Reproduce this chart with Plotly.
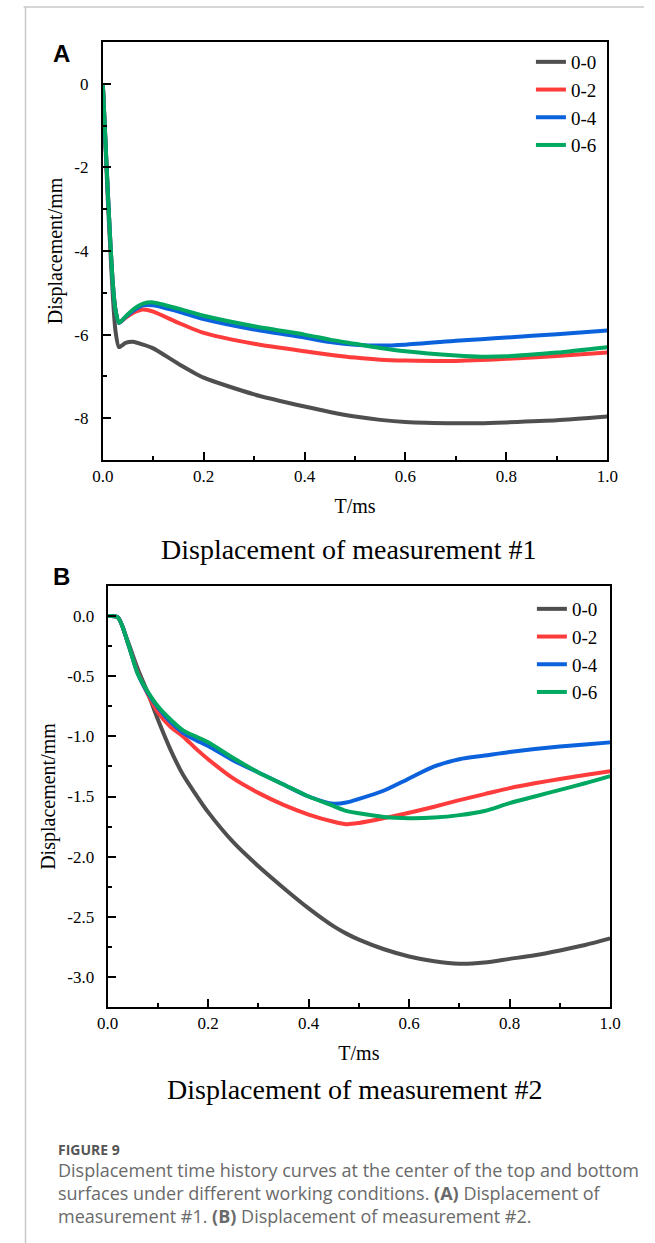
import plotly.graph_objects as go

W, H = 655, 1243

# ---------------- data ----------------
series_names = ["0-0", "0-2", "0-4", "0-6"]
series_colors = ["#4f4f4f", "#ff3c3c", "#0b62dc", "#00a862"]

# Panel A: displacement of measurement #1
tA = [0, 0.005, 0.01, 0.015, 0.02, 0.025, 0.032, 0.045, 0.06, 0.08, 0.1, 0.15, 0.2,
      0.3, 0.4, 0.45, 0.5, 0.55, 0.6, 0.7, 0.75, 0.8, 0.9, 1.0]
a_00 = [0, -1.4, -2.8, -4.0, -5.1, -5.9, -6.3, -6.2, -6.17, -6.24, -6.33, -6.7, -7.03,
        -7.43, -7.72, -7.85, -7.96, -8.04, -8.09, -8.12, -8.12, -8.1, -8.05, -7.96]
a_02 = [0, -1.3, -2.6, -3.8, -4.8, -5.4, -5.72, -5.6, -5.48, -5.4, -5.45, -5.72, -5.96,
        -6.22, -6.4, -6.48, -6.55, -6.6, -6.62, -6.63, -6.61, -6.58, -6.51, -6.43]
a_04 = [0, -1.3, -2.6, -3.8, -4.8, -5.4, -5.72, -5.58, -5.43, -5.3, -5.3, -5.45, -5.63,
        -5.88, -6.07, -6.18, -6.24, -6.26, -6.24, -6.15, -6.11, -6.07, -5.99, -5.9]
a_06 = [0, -1.3, -2.6, -3.8, -4.8, -5.4, -5.72, -5.57, -5.4, -5.26, -5.23, -5.38, -5.55,
        -5.8, -6.0, -6.12, -6.22, -6.32, -6.4, -6.5, -6.53, -6.52, -6.43, -6.3]

# Panel B: displacement of measurement #2
tB = [0, 0.02, 0.04, 0.06, 0.08, 0.1, 0.125, 0.15, 0.175, 0.2, 0.25, 0.3, 0.35, 0.4,
      0.45, 0.475, 0.5, 0.55, 0.6, 0.65, 0.7, 0.75, 0.8, 0.85, 0.9, 0.95, 1.0]
b_00 = [0, -0.01, -0.21, -0.44, -0.64, -0.86, -1.11, -1.32, -1.48, -1.63, -1.88, -2.08,
        -2.26, -2.43, -2.58, -2.64, -2.69, -2.77, -2.83, -2.87, -2.89, -2.88, -2.85,
        -2.82, -2.78, -2.735, -2.68]
b_02 = [0, -0.01, -0.22, -0.47, -0.65, -0.8, -0.92, -1.0, -1.1, -1.19, -1.35, -1.47,
        -1.57, -1.65, -1.71, -1.73, -1.72, -1.68, -1.635, -1.585, -1.53, -1.48, -1.43,
        -1.39, -1.355, -1.322, -1.29]
b_04 = [0, -0.01, -0.22, -0.48, -0.64, -0.76, -0.88, -0.97, -1.03, -1.08, -1.2, -1.3,
        -1.4, -1.5, -1.56, -1.55, -1.52, -1.45, -1.35, -1.25, -1.19, -1.16, -1.13,
        -1.105, -1.085, -1.067, -1.05]
b_06 = [0, -0.01, -0.22, -0.48, -0.63, -0.75, -0.86, -0.95, -1.0, -1.05, -1.18, -1.3,
        -1.4, -1.5, -1.58, -1.62, -1.64, -1.67, -1.68, -1.675, -1.655, -1.62, -1.555,
        -1.5, -1.445, -1.39, -1.33]

# axis ticks
x_tickvals = [0, 0.2, 0.4, 0.6, 0.8, 1.0]
x_ticktext = ["0.0", "0.2", "0.4", "0.6", "0.8", "1.0"]
yA_tickvals = [0, -2, -4, -6, -8]
yA_ticktext = ["0", "-2", "-4", "-6", "-8"]
yB_tickvals = [0, -0.5, -1.0, -1.5, -2.0, -2.5, -3.0]
yB_ticktext = ["0.0", "-0.5", "-1.0", "-1.5", "-2.0", "-2.5", "-3.0"]

SERIF = "Liberation Serif, Times New Roman, serif"

fig = go.Figure()

for name, color, ys in zip(series_names, series_colors, [a_00, a_02, a_04, a_06]):
    fig.add_trace(go.Scatter(x=tA, y=ys, name=name, mode="lines",
                             line=dict(color=color, width=4, shape="spline", smoothing=0.6),
                             xaxis="x", yaxis="y", legend="legend"))
for name, color, ys in zip(series_names, series_colors, [b_00, b_02, b_04, b_06]):
    fig.add_trace(go.Scatter(x=tB, y=ys, name=name, mode="lines",
                             line=dict(color=color, width=4, shape="spline", smoothing=0.8),
                             xaxis="x2", yaxis="y2", legend="legend2"))

def px_x(p):
    return p / W

def px_y(p):
    return 1 - p / H

axis_common = dict(showgrid=False, zeroline=False, showline=True, linecolor="black",
                   linewidth=2, mirror=True, ticks="inside", ticklen=8, tickwidth=1.5,
                   tickcolor="black", tickfont=dict(family=SERIF, size=17, color="black"))

minor_x = dict(ticks="inside", ticklen=4, tickwidth=1.5, dtick=0.1, tickcolor="black")
title_font = dict(family=SERIF, size=20, color="black")

fig.update_layout(
    width=W, height=H, margin=dict(l=0, r=0, t=0, b=0),
    paper_bgcolor="white", plot_bgcolor="white",
    xaxis=dict(domain=[px_x(95), px_x(617)], range=[0, 1], anchor="y",
               tickvals=x_tickvals, ticktext=x_ticktext, minor=minor_x,
               title=dict(text="T/ms", font=title_font, standoff=14),
               **axis_common),
    yaxis=dict(domain=[px_y(460), px_y(42)], range=[-9, 1], anchor="x",
               tickvals=yA_tickvals, ticktext=yA_ticktext, ticklabelstandoff=9,
               minor=dict(ticks="inside", ticklen=4, tickwidth=1.5, dtick=1, tickcolor="black"),
               title=dict(text="Displacement/mm", font=title_font, standoff=6),
               **axis_common),
    xaxis2=dict(domain=[px_x(100), px_x(620)], range=[0, 1], anchor="y2",
                tickvals=x_tickvals, ticktext=x_ticktext, minor=minor_x,
                title=dict(text="T/ms", font=title_font, standoff=14),
                **axis_common),
    yaxis2=dict(domain=[px_y(1007), px_y(586)], range=[-3.25, 0.25], anchor="x2",
                tickvals=yB_tickvals, ticktext=yB_ticktext, ticklabelstandoff=8,
                minor=dict(ticks="inside", ticklen=4, tickwidth=1.5, dtick=0.25, tickcolor="black"),
                title=dict(text="Displacement/mm", font=title_font, standoff=6),
                **axis_common),
    legend=dict(x=px_x(538), y=px_y(43), xanchor="left", yanchor="top",
                bgcolor="rgba(0,0,0,0)", font=dict(family=SERIF, size=19, color="black"),
                tracegroupgap=0),
    legend2=dict(x=px_x(539), y=px_y(590), xanchor="left", yanchor="top",
                 bgcolor="rgba(0,0,0,0)", font=dict(family=SERIF, size=19, color="black"),
                 tracegroupgap=0),
    showlegend=True,
)

# page frame lines
fig.add_shape(type="line", xref="paper", yref="paper", x0=px_x(13), x1=1, y0=px_y(7), y1=px_y(7),
              line=dict(color="#c8c8c8", width=1.5))
fig.add_shape(type="line", xref="paper", yref="paper", x0=px_x(15), x1=px_x(15), y0=px_y(7), y1=0,
              line=dict(color="#c8c8c8", width=1.5))

annotations = [
    dict(text="<b>A</b>", x=px_x(52), y=px_y(54), font=dict(family="Liberation Sans, Arial", size=24, color="black")),
    dict(text="<b>B</b>", x=px_x(52), y=px_y(576), font=dict(family="Liberation Sans, Arial", size=24, color="black")),
    dict(text="Displacement of measurement #1", x=px_x(350), y=px_y(549),
         font=dict(family=SERIF, size=28, color="black")),
    dict(text="Displacement of measurement #2", x=px_x(356), y=px_y(1089),
         font=dict(family=SERIF, size=28, color="black")),
]
for a in annotations:
    fig.add_annotation(xref="paper", yref="paper", showarrow=False, xanchor="center", yanchor="middle", **a)

caption_lines = [
    "Displacement time history curves at the center of the top and bottom",
    "surfaces under different working conditions. <b>(A)</b> Displacement of",
    "measurement #1. <b>(B)</b> Displacement of measurement #2.",
]
fig.add_annotation(xref="paper", yref="paper", showarrow=False, xanchor="left", yanchor="middle",
                   x=px_x(47), y=px_y(1149), text="<b>FIGURE 9</b>",
                   font=dict(family="Open Sans, sans-serif", size=14, color="#555555"))
for i, line in enumerate(caption_lines):
    fig.add_annotation(xref="paper", yref="paper", showarrow=False, xanchor="left", yanchor="middle",
                       x=px_x(47), y=px_y(1170 + 23 * i), text=line,
                       font=dict(family="Open Sans, sans-serif", size=18, color="#6a6a6a"))

fig.write_html("out.html", config={"displayModeBar": False},
               post_script="document.body.style.margin='0';")
